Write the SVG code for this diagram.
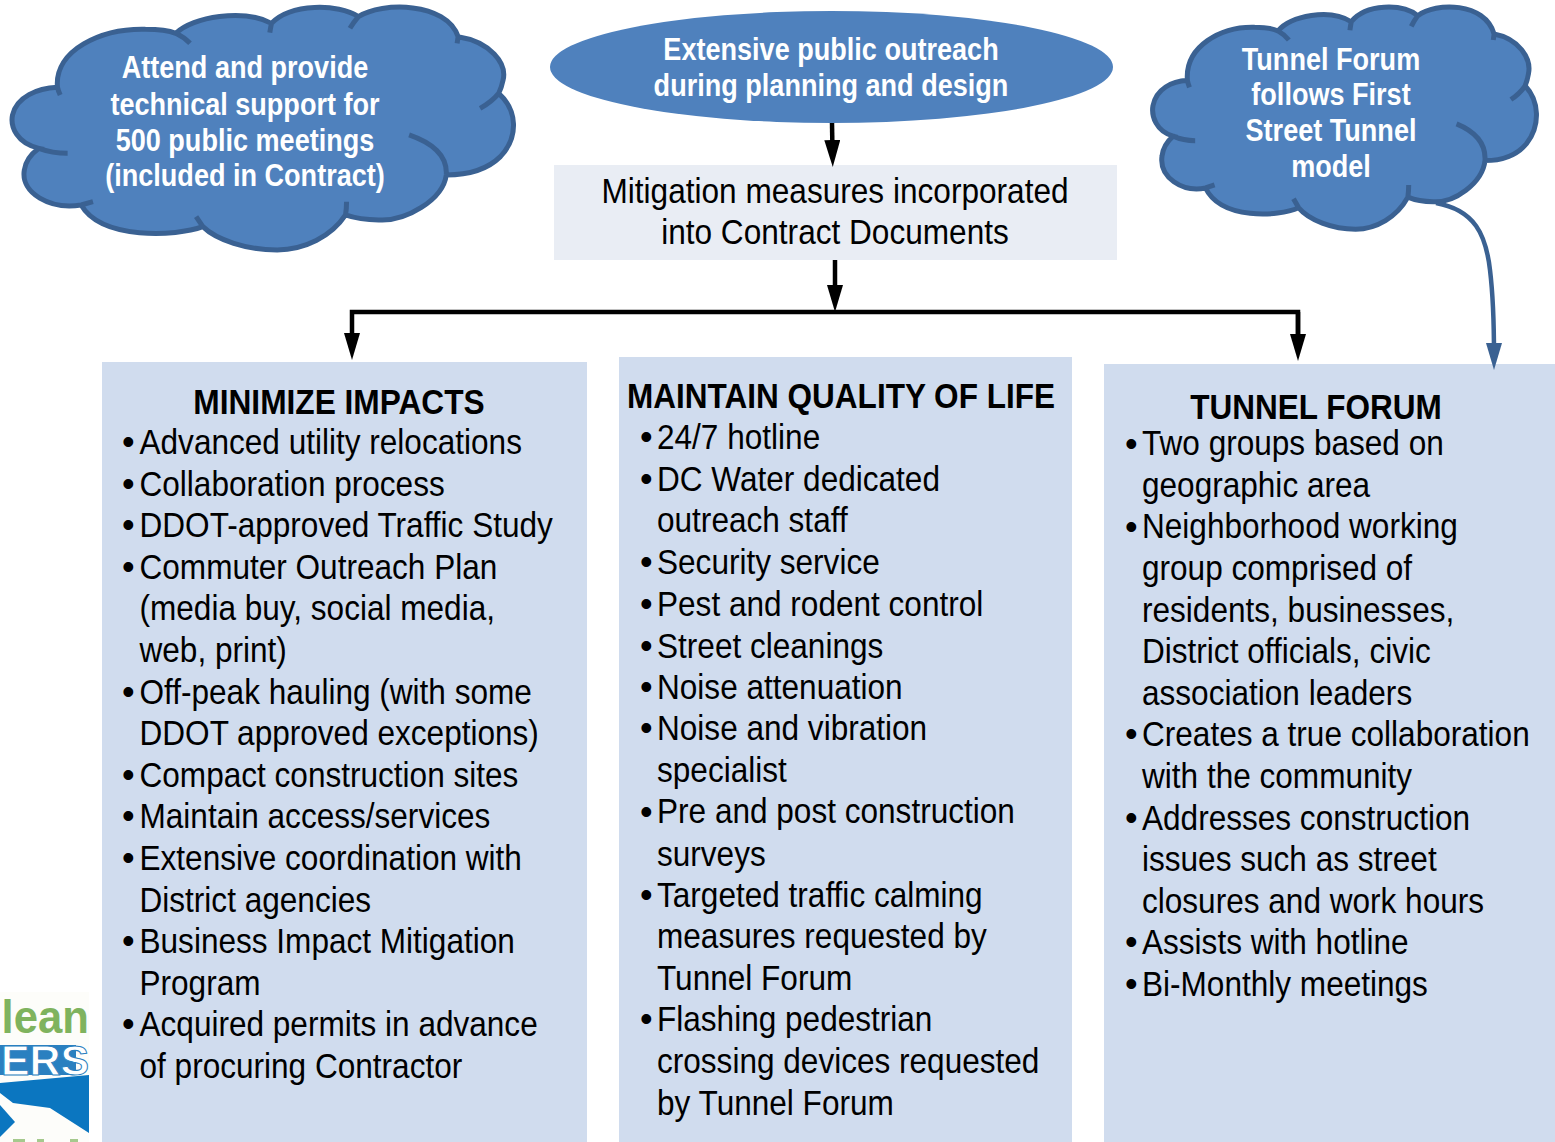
<svg xmlns="http://www.w3.org/2000/svg" width="1555" height="1142" viewBox="0 0 1555 1142">
<style>
text{font-family:"Liberation Sans",Arial,sans-serif}
.b{font-size:36px;fill:#000}
.h{font-size:36px;font-weight:bold;fill:#000;text-anchor:middle}
.c{font-size:32px;font-weight:bold;fill:#fff;text-anchor:middle}
.m{font-size:36px;fill:#000;text-anchor:middle}
.box{fill:#d0dcee}
.cl{fill:#4f81bd;stroke:#3a6192;stroke-width:5;vector-effect:non-scaling-stroke}
.k{fill:none;stroke:#000;stroke-width:4.5}
</style>
<defs>
<marker id="ak" markerUnits="userSpaceOnUse" markerWidth="27" markerHeight="16" refX="12" refY="8" orient="auto" viewBox="0 0 27 16"><path d="M0,0L27,8L0,16Z" fill="#000"/></marker>
<marker id="ab" markerUnits="userSpaceOnUse" markerWidth="27" markerHeight="16" refX="12" refY="8" orient="auto" viewBox="0 0 27 16"><path d="M0,0L27,8L0,16Z" fill="#3a6192"/></marker>
<path id="cloud" class="cl" d="M170,262 C160,150 300,85 430,88 C460,88 500,92 520,100 C570,50 720,25 803,70 C860,10 1000,10 1060,50 C1130,5 1320,5 1355,110 C1450,125 1500,190 1488,240 C1485,255 1480,270 1475,280 C1530,330 1535,410 1480,470 C1440,510 1380,525 1320,525 C1310,600 1200,665 1120,660 C1090,660 1050,655 1022,645 C980,710 900,750 820,750 C730,750 640,720 600,680 C520,710 300,720 240,615 C150,630 60,580 72,510 C76,480 95,460 115,445 C50,430 30,380 37,345 C50,290 110,265 170,262 Z M170,262 Q172,272 178,285 M520,100 Q545,112 562,130 M803,70 Q800,85 798,98 M1060,50 Q1045,68 1035,85 M1355,110 L1352,130 M1475,280 Q1455,305 1420,325 M1210,405 Q1325,445 1320,525 M1025,605 Q1025,625 1022,645 M580,650 Q590,665 600,680 M240,615 L275,605 M115,445 Q155,460 200,460"/>
<clipPath id="logoClip"><rect x="0" y="992" width="89" height="150"/></clipPath>
</defs>
<rect width="1555" height="1142" fill="#fff"/>

<g id="logo" clip-path="url(#logoClip)">
<rect x="0" y="992" width="89" height="150" fill="#fdfdfa"/>
<g transform="translate(89 0) scale(.95 1)"><text x="0" y="1033" font-size="46" font-weight="bold" fill="#7fb35e" text-anchor="end">lean</text></g>
<rect x="0" y="1045" width="76" height="30" fill="#2a80c0"/>
<g transform="translate(89 0) scale(1.02 1)"><text x="0" y="1075" font-size="42" font-weight="bold" fill="#fff" stroke="#2a80c0" stroke-width="1" text-anchor="end">ERS</text></g>
<path d="M0,1083L89,1075V1133L50,1108L13,1103L0,1093Z" fill="#0b76c0"/>
<path d="M0,1105L15,1122L0,1137Z" fill="#0b76c0"/>
<path d="M13,1139h12v3h-12zM37,1139h7v3h-7zM70,1139h8v3h-8z" fill="#a5c98d"/>
</g>

<g id="box-minimize">
<rect class="box" x="102" y="362" width="485" height="780"/>
<g transform="translate(339 0) scale(.88 1)"><text class="h" x="0" y="414.500">MINIMIZE IMPACTS</text></g>
<g transform="translate(122 0)"><text class="b" y="454">•</text><text class="b" y="496">•</text><text class="b" y="537">•</text><text class="b" y="579">•</text><text class="b" y="704">•</text><text class="b" y="787">•</text><text class="b" y="828">•</text><text class="b" y="870">•</text><text class="b" y="953">•</text><text class="b" y="1036">•</text></g>
<g transform="translate(139.5 0) scale(.877 1)">
<text class="b" y="454">Advanced utility relocations</text>
<text class="b" y="496">Collaboration process</text>
<text class="b" y="537">DDOT-approved Traffic Study</text>
<text class="b" y="579">Commuter Outreach Plan</text>
<text class="b" y="620">(media buy, social media,</text>
<text class="b" y="662">web, print)</text>
<text class="b" y="704">Off-peak hauling (with some</text>
<text class="b" y="745">DDOT approved exceptions)</text>
<text class="b" y="787">Compact construction sites</text>
<text class="b" y="828">Maintain access/services</text>
<text class="b" y="870">Extensive coordination with</text>
<text class="b" y="912">District agencies</text>
<text class="b" y="953">Business Impact Mitigation</text>
<text class="b" y="995">Program</text>
<text class="b" y="1036">Acquired permits in advance</text>
<text class="b" y="1078">of procuring Contractor</text>
</g>
</g>

<g id="box-quality">
<rect class="box" x="619" y="357" width="453" height="785"/>
<g transform="translate(841 0) scale(.876 1)"><text class="h" x="0" y="408">MAINTAIN QUALITY OF LIFE</text></g>
<g transform="translate(640 0)"><text class="b" y="449">•</text><text class="b" y="491">•</text><text class="b" y="574">•</text><text class="b" y="616">•</text><text class="b" y="658">•</text><text class="b" y="699">•</text><text class="b" y="740">•</text><text class="b" y="824">•</text><text class="b" y="907">•</text><text class="b" y="1031">•</text></g>
<g transform="translate(657 0) scale(.877 1)">
<text class="b" y="449">24/7 hotline</text>
<text class="b" y="491">DC Water dedicated</text>
<text class="b" y="532">outreach staff</text>
<text class="b" y="574">Security service</text>
<text class="b" y="616">Pest and rodent control</text>
<text class="b" y="658">Street cleanings</text>
<text class="b" y="699">Noise attenuation</text>
<text class="b" y="740">Noise and vibration</text>
<text class="b" y="782">specialist</text>
<text class="b" y="823.5">Pre and post construction</text>
<text class="b" y="866">surveys</text>
<text class="b" y="907">Targeted traffic calming</text>
<text class="b" y="948">measures requested by</text>
<text class="b" y="990">Tunnel Forum</text>
<text class="b" y="1031">Flashing pedestrian</text>
<text class="b" y="1073">crossing devices requested</text>
<text class="b" y="1115">by Tunnel Forum</text>
</g>
</g>

<g id="box-forum">
<rect class="box" x="1104" y="364" width="451" height="778"/>
<g transform="translate(1316 0) scale(.876 1)"><text class="h" x="0" y="419">TUNNEL FORUM</text></g>
<g transform="translate(1125 0)"><text class="b" y="455.5">•</text><text class="b" y="538.5">•</text><text class="b" y="746">•</text><text class="b" y="830">•</text><text class="b" y="954">•</text><text class="b" y="996">•</text></g>
<g transform="translate(1142 0) scale(.877 1)">
<text class="b" y="455.5">Two groups based on</text>
<text class="b" y="497">geographic area</text>
<text class="b" y="538.5">Neighborhood working</text>
<text class="b" y="580">group comprised of</text>
<text class="b" y="622">residents, businesses,</text>
<text class="b" y="663">District officials, civic</text>
<text class="b" y="705">association leaders</text>
<text class="b" y="746">Creates a true collaboration</text>
<text class="b" y="788">with the community</text>
<text class="b" y="830">Addresses construction</text>
<text class="b" y="871">issues such as street</text>
<text class="b" y="913">closures and work hours</text>
<text class="b" y="954">Assists with hotline</text>
<text class="b" y="996">Bi-Monthly meetings</text>
</g>
</g>

<g id="cloud-meetings">
<use href="#cloud" transform="scale(.3381 .3333)"/>
<g transform="translate(245 0) scale(.846 1)">
<text class="c" y="78.500">Attend and provide</text>
<text class="c" y="115">technical support for</text>
<text class="c" y="151">500 public meetings</text>
<text class="c" y="186">(included in Contract)</text>
</g>
</g>

<g id="cloud-forum">
<use href="#cloud" transform="translate(1143.4 .4) scale(.2588 .305)"/>
<g transform="translate(1331 0) scale(.846 1)">
<text class="c" y="70">Tunnel Forum</text>
<text class="c" y="105">follows First</text>
<text class="c" y="141">Street Tunnel</text>
<text class="c" y="177">model</text>
</g>
</g>

<g id="ellipse-outreach">
<ellipse cx="831.5" cy="67" rx="281.5" ry="56" fill="#4f81bd"/>
<g transform="translate(831 0) scale(.846 1)">
<text class="c" y="60">Extensive public outreach</text>
<text class="c" y="96">during planning and design</text>
</g>
</g>

<g id="rect-mitigation">
<rect x="554" y="165" width="563" height="95" fill="#e9edf4"/>
<g transform="translate(835 0) scale(.878 1)">
<text class="m" y="203">Mitigation measures incorporated</text>
<text class="m" y="244">into Contract Documents</text>
</g>
</g>

<g id="connectors">
<path class="k" d="M832,123L832.500,152" marker-end="url(#ak)"/>
<path class="k" d="M835,260V297" marker-end="url(#ak)"/>
<path class="k" d="M1298,346V312H352V345" marker-end="url(#ak)"/>
<path class="k" d="M1298,312V346" marker-end="url(#ak)"/>
<path d="M1436,203C1475,210 1486,235 1490,270C1493,295 1494,320 1494,355" fill="none" stroke="#3a6192" stroke-width="4.500" marker-end="url(#ab)"/>
</g>
</svg>
